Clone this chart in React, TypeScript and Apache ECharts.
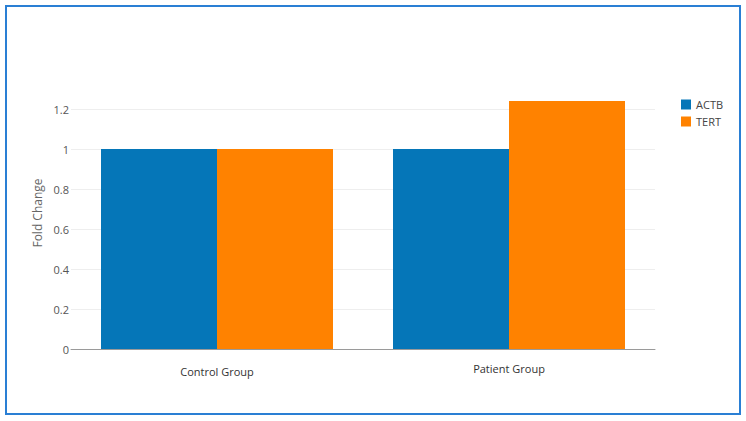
import React, { useEffect, useRef } from "react";
import * as echarts from "echarts";

const categories = ["Control Group", "Patient Group"];
const actb = [1.0, 1.0];
const tert = [1.0, 1.24];
const seriesNames = ["ACTB", "TERT"];
const colors = ["#0576b8", "#ff8200"];

export default function App() {
  const ref = useRef<HTMLDivElement>(null);
  useEffect(() => {
    const chart = echarts.init(ref.current!, null, { renderer: "svg" });
    const font = "'Open Sans', 'Noto Sans', sans-serif";
    chart.setOption({
      animation: false,
      textStyle: { fontFamily: font },
      grid: { left: 71, right: 91, top: 89, bottom: 72 },
      legend: {
        orient: "vertical",
        left: 676,
        top: 94,
        itemWidth: 10,
        itemHeight: 10,
        itemGap: 6,
        icon: "rect",
        textStyle: { fontSize: 11, color: "#444", fontFamily: font },
        data: seriesNames,
      },
      xAxis: {
        type: "category",
        data: categories,
        axisLine: { lineStyle: { color: "#9a9a9a", width: 1 } },
        axisTick: { show: false },
        axisLabel: {
          margin: 14,
          color: "#333",
          fontSize: 11,
          fontFamily: font,
          formatter: (v: string, i: number) => (i === 0 ? `{a|${v}}` : `{b|${v}}`),
          rich: {
            a: { fontSize: 11, color: "#333", fontFamily: font, padding: [3, 0, 0, 0] },
            b: { fontSize: 11, color: "#333", fontFamily: font, padding: [0, 0, 0, 0] },
          },
        },
      },
      yAxis: {
        type: "value",
        min: 0,
        max: 1.3,
        interval: 0.2,
        axisLine: { show: false },
        axisTick: { show: false },
        axisLabel: {
          margin: 2,
          color: "#555",
          fontSize: 11,
          fontFamily: font,
          showMaxLabel: false,
        },
        splitLine: { showMaxLine: false, lineStyle: { color: "#eeeeee", width: 1 } },
      },
      graphic: [
        {
          type: "rect",
          shape: { x: 6, y: 6, width: 734, height: 408 },
          style: { fill: "none", stroke: "#2a7fd4", lineWidth: 2 },
        },
        {
          type: "text",
          x: 37,
          y: 213,
          rotation: Math.PI / 2,
          style: {
            text: "Fold Change",
            fontSize: 12,
            fill: "#666",
            fontFamily: font,
            textAlign: "center",
            textVerticalAlign: "middle",
          },
        },
      ],
      series: [
        {
          name: seriesNames[0],
          type: "bar",
          data: actb,
          barWidth: 116,
          barGap: "0%",
          itemStyle: { color: colors[0] },
        },
        {
          name: seriesNames[1],
          type: "bar",
          data: tert,
          barWidth: 116,
          barGap: "0%",
          itemStyle: { color: colors[1] },
        },
      ],
    });
    return () => chart.dispose();
  }, []);
  return (
    <div
      ref={ref}
      style={{ position: "fixed", left: 0, top: 0, width: 746, height: 421, background: "#fff" }}
    />
  );
}
